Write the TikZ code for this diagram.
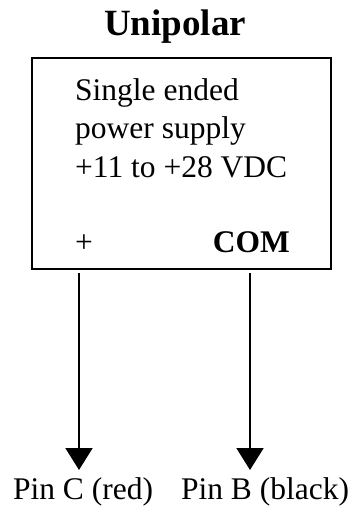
\documentclass[tikz,border=0pt]{standalone}
\usepackage{fontspec}
\setmainfont{Liberation Serif}
\usetikzlibrary{arrows.meta, positioning}

\begin{document}
\begin{tikzpicture}[
    x=1pt, y=1pt,
    every node/.style={font=\fontsize{31.5}{38.5}\selectfont, inner sep=0pt},
    psbox/.style={rectangle, draw, line width=1.8pt, minimum width=299pt, minimum height=211pt},
    arrow/.style={-{Triangle[length=22pt, width=27pt]}, line width=2pt}
]
\useasboundingbox (0,0) rectangle (355,-506);
\node[font=\fontsize{37}{44}\selectfont\bfseries, anchor=base] (title) at (175,-35) {Unipolar};
\node[psbox] (supply) at (181.5,-163.5) {};
\node[anchor=north west, align=left] (desc) at (75,-78) {Single ended\\power supply\\+11 to +28 VDC};
\node[anchor=base] (plus) at (84,-252) {+};
\node[anchor=base east, font=\fontsize{31.5}{38.5}\selectfont\bfseries] (com) at (290,-252) {COM};
\node[anchor=base] (pinC) at (83,-499) {Pin C (red)};
\node[anchor=base] (pinB) at (265,-499) {Pin B (black)};
\coordinate (plusTop) at (79,-273);
\coordinate (plusTip) at (79,-470);
\coordinate (comTop) at (250,-273);
\coordinate (comTip) at (250,-470);
\draw[arrow] (plusTop) -- (plusTip);
\draw[arrow] (comTop) -- (comTip);
\end{tikzpicture}
\end{document}
